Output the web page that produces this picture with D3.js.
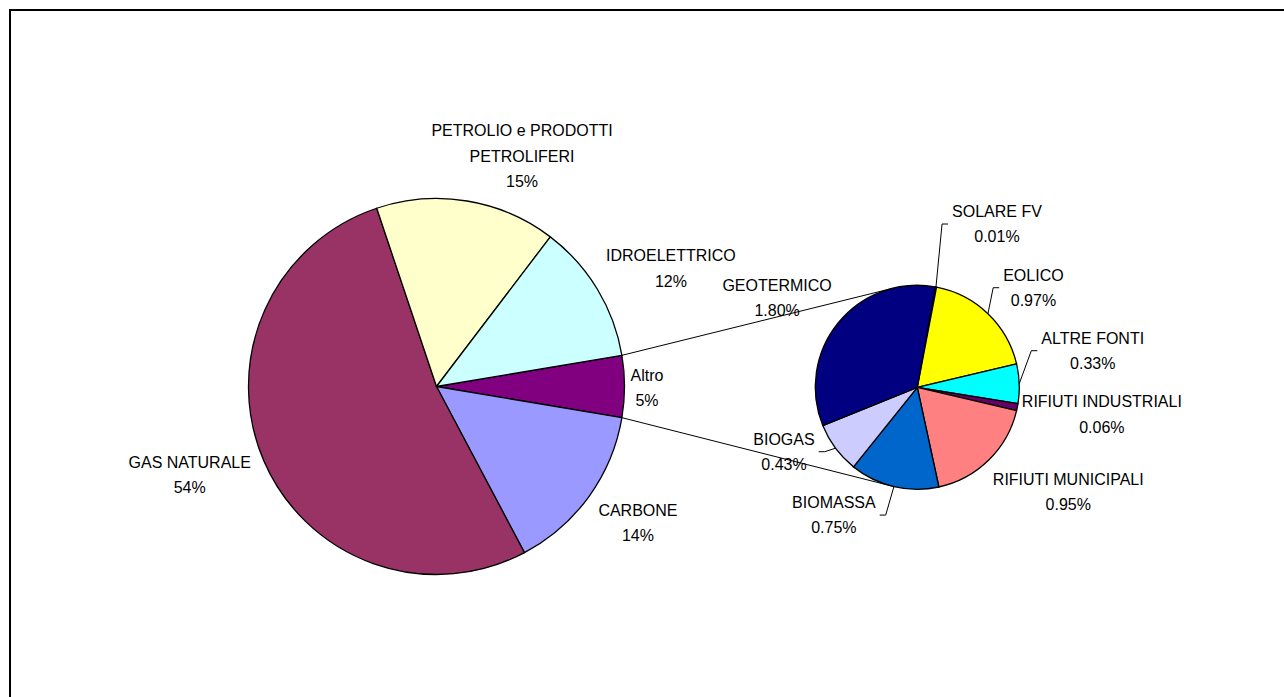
<!DOCTYPE html>
<html>
<head>
<meta charset="utf-8">
<script src="https://cdn.jsdelivr.net/npm/d3@7"></script>
<style>
  html, body { margin: 0; padding: 0; background: #fff; overflow: hidden; }
  svg { display: block; }
  text { font-family: "Liberation Sans", Arial, sans-serif; font-size: 16px; fill: #000; }
</style>
</head>
<body>
<div id="chart"></div>
<script>
// Secondary pie ("Altro" broken down), clockwise from the top.
const secondCategories = [
  "SOLARE FV",
  "EOLICO",
  "ALTRE FONTI",
  "RIFIUTI INDUSTRIALI",
  "RIFIUTI MUNICIPALI",
  "BIOMASSA",
  "BIOGAS",
  "GEOTERMICO",
];
const secondValues = [0.01, 0.97, 0.33, 0.06, 0.95, 0.75, 0.43, 1.8];

// Main pie, clockwise starting from the "Altro" slice on the right.
// "Altro" takes the sum of the secondary pie.
const mainCategories = [
  "Altro",
  "CARBONE",
  "GAS NATURALE",
  "PETROLIO e PRODOTTI\nPETROLIFERI",
  "IDROELETTRICO",
];
const mainValues = [d3.sum(secondValues), 14.6, 52.6, 15.5, 12.0];
const mainPercentLabels = ["5%", "14%", "54%", "15%", "12%"];

// Styles
const mainColors = ["#800080", "#9999FF", "#993366", "#FFFFCC", "#CCFFFF"];
const secondColors = [
  "#FF00FF",
  "#FFFF00",
  "#00FFFF",
  "#660066",
  "#FF8080",
  "#0066CC",
  "#CCCCFF",
  "#000080",
];

// Layout
const W = 1284;
const H = 697;
const MAIN = { cx: 436.5, cy: 386.5, r: 188 };
const SECOND = { cx: 917.3, cy: 387.3, r: 102, startDeg: 10.2 };
const LINE_H = 25.3;

// Label block offsets from the slice's outer point (mid angle), in px.
const mainLabelOffsets = [
  [22.5, 1],
  [49, 26],
  [-74, 14],
  [55, -45],
  [73.5, -21],
];
const secondLabelOffsets = [
  [61, -63],
  [45.5, -26],
  [73.5, -33],
  [84.5, 7],
  [79.5, 31.5],
  [-60, 28.5],
  [-51.5, 3.5],
  [-61, -25.5],
];
// Which secondary labels get a leader line (moved labels in the original).
const secondLeaders = [true, true, true, false, false, true, true, false];

const rad = (deg) => (deg * Math.PI) / 180;

function outerPoint(pie, angle, r) {
  return [pie.cx + r * Math.sin(angle), pie.cy - r * Math.cos(angle)];
}

function drawPie(svg, pie, values, colors, startAngle) {
  const layout = d3
    .pie()
    .sort(null)
    .value((d) => d)
    .startAngle(startAngle)
    .endAngle(startAngle + 2 * Math.PI);
  const arcs = layout(values);
  const arc = d3.arc().innerRadius(0).outerRadius(pie.r);

  const g = svg.append("g").attr("transform", `translate(${pie.cx},${pie.cy})`);
  g.selectAll("path")
    .data(arcs)
    .join("path")
    .attr("d", arc)
    .attr("fill", (d, i) => colors[i])
    .attr("stroke", "#000")
    .attr("stroke-width", 1.3)
    .attr("stroke-linejoin", "round");
  return arcs;
}

function drawLabel(svg, lines, x, y) {
  const n = lines.length;
  const t = svg.append("text").attr("text-anchor", "middle");
  lines.forEach((line, i) => {
    const cy = y + (i - (n - 1) / 2) * LINE_H;
    t.append("tspan")
      .attr("x", x)
      .attr("y", cy + 16 * 0.358)
      .text(line);
  });
  let maxW = 0;
  t.selectAll("tspan").each(function () {
    maxW = Math.max(maxW, this.getComputedTextLength());
  });
  return { w: maxW, h: n * LINE_H };
}

function tangentPoint(p, circle, side) {
  const dx = circle.cx - p[0];
  const dy = circle.cy - p[1];
  const d = Math.hypot(dx, dy);
  const phi = Math.atan2(dy, dx);
  const alpha = Math.asin(circle.r / d);
  const len = Math.sqrt(d * d - circle.r * circle.r);
  const a = phi + side * alpha;
  return [p[0] + len * Math.cos(a), p[1] + len * Math.sin(a)];
}

function render() {
  const svg = d3
    .select("#chart")
    .append("svg")
    .attr("width", W)
    .attr("height", H)
    .attr("viewBox", `0 0 ${W} ${H}`);

  svg.append("rect").attr("width", W).attr("height", H).attr("fill", "#fff");

  // Chart area frame (runs off the right/bottom edge like the original)
  svg
    .append("rect")
    .attr("x", 10)
    .attr("y", 10)
    .attr("width", W + 20)
    .attr("height", H + 20)
    .attr("fill", "none")
    .attr("stroke", "#000")
    .attr("stroke-width", 2);

  const total = d3.sum(mainValues);
  const altroSpan = (mainValues[0] / total) * 2 * Math.PI;
  const mainStart = Math.PI / 2 - altroSpan / 2;

  const mainArcs = drawPie(svg, MAIN, mainValues, mainColors, mainStart);
  const secondArcs = drawPie(svg, SECOND, secondValues, secondColors, rad(SECOND.startDeg));

  // Connector lines: from the edges of "Altro" tangent to the second pie
  const altro = mainArcs[0];
  const pTop = outerPoint(MAIN, altro.startAngle, MAIN.r);
  const pBot = outerPoint(MAIN, altro.endAngle, MAIN.r);
  const tTop = tangentPoint(pTop, SECOND, -1);
  const tBot = tangentPoint(pBot, SECOND, 1);
  const line = d3.line();
  svg
    .append("g")
    .selectAll("path")
    .data([[pTop, tTop], [pBot, tBot]])
    .join("path")
    .attr("d", line)
    .attr("fill", "none")
    .attr("stroke", "#000")
    .attr("stroke-width", 1);

  // Main pie labels
  mainArcs.forEach((a, i) => {
    const mid = (a.startAngle + a.endAngle) / 2;
    const [ox, oy] = outerPoint(MAIN, mid, MAIN.r);
    const [dx, dy] = mainLabelOffsets[i];
    const lines = [...mainCategories[i].split("\n"), mainPercentLabels[i]];
    drawLabel(svg, lines, ox + dx, oy + dy);
  });

  // Secondary pie labels (+ leader lines)
  const fmt = d3.format(".2f");
  const leaders = [];
  secondArcs.forEach((a, i) => {
    const mid = (a.startAngle + a.endAngle) / 2;
    const [ox, oy] = outerPoint(SECOND, mid, SECOND.r);
    const [dx, dy] = secondLabelOffsets[i];
    const lx = ox + dx;
    const ly = oy + dy;
    const lines = [...secondCategories[i].split("\n"), `${fmt(secondValues[i])}%`];
    const box = drawLabel(svg, lines, lx, ly);
    if (secondLeaders[i]) {
      const side = dx >= 0 ? -1 : 1;
      const edgeX = lx + side * (box.w / 2 + 4);
      leaders.push([[ox, oy], [edgeX + side * 6, ly], [edgeX, ly]]);
    }
  });

  svg
    .append("g")
    .selectAll("path")
    .data(leaders)
    .join("path")
    .attr("d", line)
    .attr("fill", "none")
    .attr("stroke", "#000")
    .attr("stroke-width", 1);
}

render();
</script>
</body>
</html>
